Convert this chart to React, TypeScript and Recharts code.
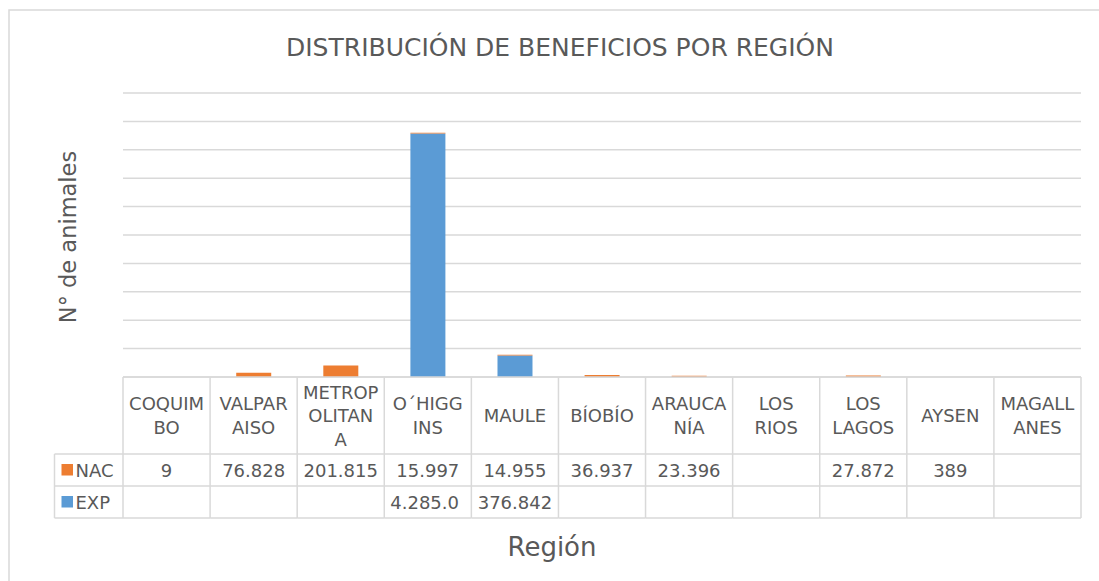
import React from 'react';
import { BarChart, Bar, XAxis, YAxis, CartesianGrid } from 'recharts';

const categories = ['COQUIMBO', 'VALPARAISO', 'METROPOLITANA', 'O´HIGGINS', 'MAULE', 'BÍOBÍO', 'ARAUCANÍA', 'LOS RIOS', 'LOS LAGOS', 'AYSEN', 'MAGALLANES'];
const nacValues: (number | null)[] = [9, 76828, 201815, 15997, 14955, 36937, 23396, null, 27872, 389, null];
const expValues: (number | null)[] = [null, null, null, 4285000, 376842, null, null, null, null, null, null];
const yTicks = [0, 500000, 1000000, 1500000, 2000000, 2500000, 3000000, 3500000, 4000000, 4500000, 5000000];
const seriesNames = ['NAC', 'EXP'];
const seriesColors = ['#ED7D31', '#5B9BD5'];
const title = 'DISTRIBUCIÓN DE BENEFICIOS POR REGIÓN';
const yTitle = 'N° de animales';
const xTitle = 'Región';

const data = categories.map((c, i) => ({ region: c, NAC: nacValues[i], EXP: expValues[i] }));

const W = 1099;
const H = 581;
const HEADER = 77;
const ROW = 32;
const LEGEND_LEFT = 54.5;
const TXT = '#595959';
const LINE = '#d9d9d9';
const FONT = 'DejaVu Sans';
const FS = 18;

const fmt = (v: number | null | undefined) =>
  v === null || v === undefined ? '' : String(v).replace(/\B(?=(\d{3})+(?!\d))/g, '.');

const wrapLabel = (s: string) => {
  const out: string[] = [];
  s.split(' ').forEach((w) => {
    const chars = Array.from(w);
    for (let i = 0; i < chars.length; i += 6) out.push(chars.slice(i, i + 6).join(''));
  });
  return out;
};

const textWidth = (s: string, fs: number) =>
  Array.from(s).reduce((a, ch) => a + (ch === '.' ? 0.318 : 0.636), 0) * fs;

const CellText = ({ left, bw, cy, value }: { left: number; bw: number; cy: number; value: string }) => {
  if (!value) return null;
  let s = value;
  const avail = bw - 8;
  if (textWidth(s, FS) <= avail) {
    return (
      <text x={left + bw / 2} y={cy} textAnchor="middle" dominantBaseline="central" fill={TXT} fontSize={FS} fontFamily={FONT}>
        {s}
      </text>
    );
  }
  while (s.length > 1 && textWidth(s, FS) > avail) s = s.slice(0, -1);
  return (
    <text x={left + 6} y={cy} textAnchor="start" dominantBaseline="central" fill={TXT} fontSize={FS} fontFamily={FONT}>
      {s}
    </text>
  );
};

const TableTick = (props: any) => {
  const { x, y, payload, index, width } = props;
  const n = categories.length;
  const bw = payload && payload.offset ? payload.offset * 2 : width / n;
  const left = x - bw / 2;
  const right = x + bw / 2;
  const i = payload.index !== undefined ? payload.index : index;
  const lines = wrapLabel(String(payload.value));
  const lh = 23.5;
  const hc = y + HEADER / 2;
  const r1 = y + HEADER;
  const r2 = r1 + ROW;
  const r3 = r2 + ROW;
  return (
    <g>
      <line x1={left} x2={left} y1={y} y2={r3} stroke={LINE} strokeWidth={1.5} />
      {i === n - 1 && <line x1={right} x2={right} y1={y} y2={r3} stroke={LINE} strokeWidth={1.5} />}
      <line x1={left} x2={right} y1={r1} y2={r1} stroke={LINE} strokeWidth={1.5} />
      <line x1={left} x2={right} y1={r2} y2={r2} stroke={LINE} strokeWidth={1.5} />
      <line x1={left} x2={right} y1={r3} y2={r3} stroke={LINE} strokeWidth={1.5} />
      {lines.map((ln, k) => (
        <text
          key={k}
          x={x}
          y={hc + (k - (lines.length - 1) / 2) * lh}
          textAnchor="middle"
          dominantBaseline="central"
          fill={TXT}
          fontSize={FS}
          fontFamily={FONT}
        >
          {ln}
        </text>
      ))}
      <CellText left={left} bw={bw} cy={r1 + ROW / 2} value={fmt(nacValues[i])} />
      <CellText left={left} bw={bw} cy={r2 + ROW / 2} value={fmt(expValues[i])} />
      {i === 0 && (
        <g>
          <line x1={LEGEND_LEFT} x2={left} y1={r1} y2={r1} stroke={LINE} strokeWidth={1.5} />
          <line x1={LEGEND_LEFT} x2={left} y1={r2} y2={r2} stroke={LINE} strokeWidth={1.5} />
          <line x1={LEGEND_LEFT} x2={left} y1={r3} y2={r3} stroke={LINE} strokeWidth={1.5} />
          <line x1={LEGEND_LEFT} x2={LEGEND_LEFT} y1={r1} y2={r3} stroke={LINE} strokeWidth={1.5} />
          {seriesNames.map((nm, k) => (
            <g key={nm}>
              <rect x={LEGEND_LEFT + 7} y={r1 + k * ROW + ROW / 2 - 6} width={11.5} height={11.5} fill={seriesColors[k]} />
              <text
                x={LEGEND_LEFT + 21}
                y={r1 + k * ROW + ROW / 2}
                dominantBaseline="central"
                fill={TXT}
                fontSize={FS}
                fontFamily={FONT}
              >
                {nm}
              </text>
            </g>
          ))}
        </g>
      )}
    </g>
  );
};

export default function App() {
  return (
    <div style={{ position: 'absolute', left: 0, top: 0, width: W, height: H, background: '#fff', fontFamily: FONT }}>
      <BarChart
        width={W}
        height={H}
        data={data}
        margin={{ top: 93, right: 18, bottom: 63, left: 123 }}
        barCategoryGap="30%"
      >
        <CartesianGrid vertical={false} stroke={LINE} strokeWidth={1.5} />
        <YAxis hide domain={[0, 5000000]} ticks={yTicks} />
        <XAxis
          dataKey="region"
          height={141}
          interval={0}
          tickSize={0}
          tickMargin={0}
          tickLine={false}
          axisLine={{ stroke: LINE, strokeWidth: 1.5 }}
          tick={<TableTick />}
        />
        <Bar dataKey="EXP" stackId="a" fill={seriesColors[1]} isAnimationActive={false} />
        <Bar dataKey="NAC" stackId="a" fill={seriesColors[0]} isAnimationActive={false} />
      </BarChart>
      <svg width={W} height={H} style={{ position: 'absolute', left: 0, top: 0, pointerEvents: 'none' }}>
        <rect x={9} y={10} width={1200} height={700} fill="none" stroke={LINE} strokeWidth={1.5} />
        <text x={560} y={47} textAnchor="middle" dominantBaseline="central" fill={TXT} fontSize={25} fontFamily={FONT}>
          {title}
        </text>
        <text
          transform="translate(68,237) rotate(-90)"
          textAnchor="middle"
          dominantBaseline="central"
          fill={TXT}
          fontSize={22.5}
          fontFamily={FONT}
        >
          {yTitle}
        </text>
        <text x={552} y={547} textAnchor="middle" dominantBaseline="central" fill={TXT} fontSize={26} fontFamily={FONT}>
          {xTitle}
        </text>
      </svg>
    </div>
  );
}
